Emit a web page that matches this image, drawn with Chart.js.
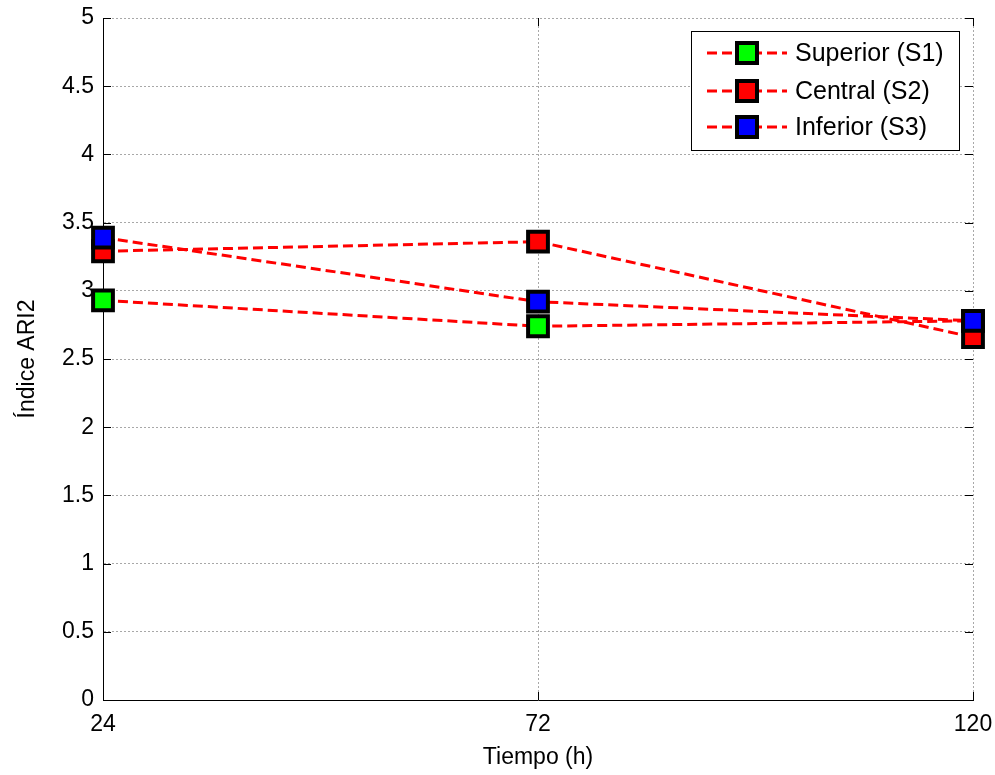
<!DOCTYPE html>
<html>
<head>
<meta charset="utf-8">
<title>Índice ARI2</title>
<script src="https://cdn.jsdelivr.net/npm/chart.js@4/dist/chart.umd.min.js"></script>
<style>
  html, body { margin: 0; padding: 0; background: #fff; }
  #wrap { width: 995px; height: 775px; }
</style>
</head>
<body>
<div id="wrap"><canvas id="chart"></canvas></div>
<script>
// === Índice ARI2 por sección ===

const tiempo = [24, 72, 120];
const superior = [2.93, 2.74, 2.78];
const central = [3.29, 3.36, 2.66];
const inferior = [3.39, 2.92, 2.78];

const yTicks = [0, 0.5, 1, 1.5, 2, 2.5, 3, 3.5, 4, 4.5, 5];
const xTicks = [24, 72, 120];

const FONT = "'Liberation Sans', Arial, sans-serif";
const LINE_RED = '#ff0000';

function toPoints(values) {
  return tiempo.map((t, i) => ({ x: t, y: values[i] }));
}

function series(label, values, fill, order) {
  return {
    label,
    data: toPoints(values),
    order,
    borderColor: LINE_RED,
    borderWidth: 3,
    borderDash: [10, 5],
    pointStyle: 'rect',
    pointRadius: 14,
    pointHoverRadius: 14,
    pointBorderWidth: 4,
    pointBorderColor: '#000',
    pointBackgroundColor: fill,
    clip: false,
    tension: 0,
  };
}

// small inward tick marks on all four sides of the plot box
const innerTicks = {
  id: 'innerTicks',
  afterDraw(chart) {
    const { ctx, chartArea: a, scales } = chart;
    const len = 8;
    ctx.save();
    ctx.strokeStyle = '#000';
    ctx.lineWidth = 1;
    ctx.beginPath();
    yTicks.forEach(v => {
      const y = Math.round(scales.y.getPixelForValue(v)) + 0.5;
      ctx.moveTo(a.left, y); ctx.lineTo(a.left + len, y);
      ctx.moveTo(a.right, y); ctx.lineTo(a.right - len, y);
    });
    xTicks.forEach(v => {
      const x = Math.round(scales.x.getPixelForValue(v)) + 0.5;
      ctx.moveTo(x, a.bottom); ctx.lineTo(x, a.bottom - len);
      ctx.moveTo(x, a.top); ctx.lineTo(x, a.top + len);
    });
    ctx.stroke();
    ctx.restore();
  }
};

// boxed legend with dashed line + marker samples
const boxLegend = {
  id: 'boxLegend',
  afterDraw(chart) {
    const { ctx } = chart;
    const box = { x: 691, y: 31, w: 268, h: 119 };
    const rowY = [53, 91, 127];
    ctx.save();
    ctx.fillStyle = '#fff';
    ctx.fillRect(box.x, box.y, box.w, box.h);
    ctx.strokeStyle = '#000';
    ctx.lineWidth = 1;
    ctx.strokeRect(box.x + 0.5, box.y + 0.5, box.w, box.h);

    chart.data.datasets.forEach((ds, i) => {
      const y = rowY[i];
      ctx.setLineDash([10, 5]);
      ctx.strokeStyle = LINE_RED;
      ctx.lineWidth = 3;
      ctx.beginPath();
      ctx.moveTo(707, y);
      ctx.lineTo(787, y);
      ctx.stroke();
      ctx.setLineDash([]);

      const s = 20;
      ctx.fillStyle = ds.pointBackgroundColor;
      ctx.fillRect(747 - s / 2, y - s / 2, s, s);
      ctx.strokeStyle = '#000';
      ctx.lineWidth = 4;
      ctx.strokeRect(747 - s / 2, y - s / 2, s, s);

      ctx.fillStyle = '#000';
      ctx.font = '25px ' + FONT;
      ctx.textAlign = 'left';
      ctx.textBaseline = 'middle';
      ctx.fillText(ds.label, 795, y + 1);
    });
    ctx.restore();
  }
};

// fixed plot box: no automatic padding for overhanging tick labels
function noPad(s) {
  s.paddingLeft = 0;
  s.paddingRight = 0;
  s.paddingTop = 0;
  s.paddingBottom = 0;
}

const ctx = document.getElementById('chart').getContext('2d');

new Chart(ctx, {
  type: 'line',
  data: {
    datasets: [
      series('Superior (S1)', superior, '#00ff00', 3),
      series('Central (S2)', central, '#ff0000', 2),
      series('Inferior (S3)', inferior, '#0000ff', 1),
    ],
  },
  options: {
    responsive: true,
    maintainAspectRatio: false,
    animation: false,
    events: [],
    layout: { padding: { top: 16, right: 22, left: 0, bottom: 0 } },
    plugins: {
      legend: { display: false },
      tooltip: { enabled: false },
    },
    scales: {
      x: {
        type: 'linear',
        min: 24,
        max: 120,
        afterBuildTicks: s => { s.ticks = xTicks.map(v => ({ value: v })); },
        afterFit: s => { s.height = 75; noPad(s); },
        grid: { color: '#a8a8a8', lineWidth: 1, drawTicks: false },
        border: { display: true, color: '#000', width: 1, dash: [2, 2] },
        ticks: {
          color: '#000', padding: 11, maxRotation: 0,
          font: { family: FONT, size: 23 },
          callback: v => String(v),
        },
        title: {
          display: true,
          text: 'Tiempo (h)',
          color: '#000',
          font: { family: FONT, size: 23 },
          padding: { top: 0, bottom: 4 },
        },
      },
      y: {
        min: 0,
        max: 5,
        afterBuildTicks: s => { s.ticks = yTicks.map(v => ({ value: v })); },
        afterFit: s => { s.width = 103; noPad(s); },
        grid: { color: '#a8a8a8', lineWidth: 1, drawTicks: false },
        border: { display: true, color: '#000', width: 1, dash: [2, 2] },
        ticks: {
          color: '#000', padding: 9,
          font: { family: FONT, size: 23 },
          callback: v => String(v),
        },
        title: {
          display: true,
          text: 'Índice ARI2',
          color: '#000',
          font: { family: FONT, size: 23 },
          padding: { top: 14, bottom: 0 },
        },
      },
    },
  },
  plugins: [innerTicks, boxLegend],
});
</script>
</body>
</html>
